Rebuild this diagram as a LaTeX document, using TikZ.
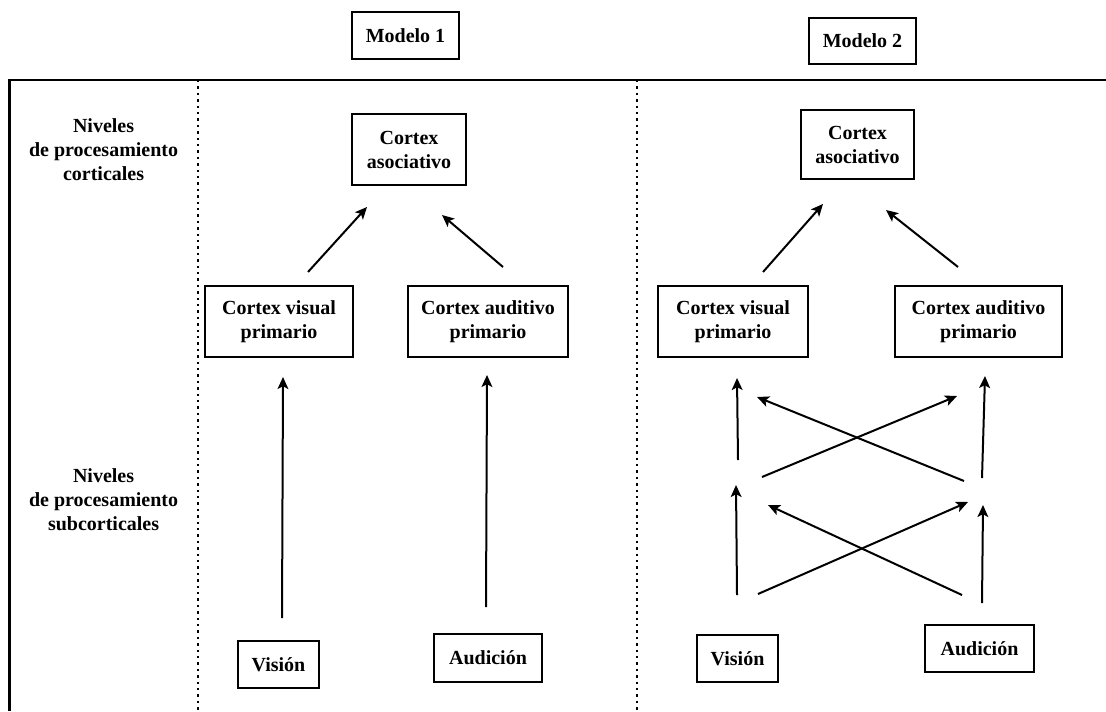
\documentclass[tikz,border=0pt]{standalone}
\usepackage{fontspec}
\setmainfont{Liberation Serif}
\usetikzlibrary{arrows.meta}
\begin{document}
\begin{tikzpicture}[x=0.5pt,y=-0.5pt,
  box/.style 2 args={draw,line width=1pt,inner sep=0pt,align=center,
    font=\bfseries,minimum width=#1*0.5pt,minimum height=#2*0.5pt},
  lbl/.style={align=center,font=\bfseries,inner sep=0pt},
  arr/.style={line width=1pt,-{Stealth[length=6pt,width=5.4pt,inset=1.4pt]}},
  frameline/.style={line width=1.2pt},
  divider/.style={line width=1.2pt,dash pattern=on 1.2pt off 2pt}]
\useasboundingbox (0,0) rectangle (1106,711);

% frame and column dividers
\coordinate (fbl) at (9.6,711);
\coordinate (ftl) at (9.6,80);
\coordinate (ftr) at (1106,80);
\draw[frameline] (fbl) -- (ftl) -- (ftr);
\coordinate (d1t) at (198,80);  \coordinate (d1b) at (198,711);
\coordinate (d2t) at (637,80);  \coordinate (d2b) at (637,711);
\draw[divider] (d1t) -- (d1b);
\draw[divider] (d2t) -- (d2b);

% row labels
\node[lbl] (lcort) at (103.6,150) {Niveles\\de procesamiento\\corticales};
\node[lbl] (lsub)  at (103.6,500) {Niveles\\de procesamiento\\subcorticales};

% model titles
\node[box={107}{47}] (mod1) at (405.5,35.5) {Modelo 1};
\node[box={107}{46}] (mod2) at (862.5,41) {Modelo 2};

% Model 1
\node[box={114}{71}] (m1asoc) at (409,149.5) {Cortex\\asociativo};
\node[box={148}{71}] (m1vis)  at (279,321.5) {Cortex visual\\primario};
\node[box={160}{71}] (m1aud)  at (488,321.5) {Cortex auditivo\\primario};
\node[box={81}{47}]  (m1vision) at (278.5,664.5) {Visión};
\node[box={108}{48}] (m1audicion) at (488,658) {Audición};

\coordinate (p1a) at (308,272); \coordinate (q1a) at (367,207);
\coordinate (p1b) at (503,267); \coordinate (q1b) at (442,215);
\coordinate (p1c) at (282,618); \coordinate (q1c) at (283,377);
\coordinate (p1d) at (486,607); \coordinate (q1d) at (487,375);
\draw[arr] (p1a) -- (q1a);
\draw[arr] (p1b) -- (q1b);
\draw[arr] (p1c) -- (q1c);
\draw[arr] (p1d) -- (q1d);

% Model 2
\node[box={113}{69}] (m2asoc) at (857.5,144.5) {Cortex\\asociativo};
\node[box={150}{71}] (m2vis)  at (733,321.5) {Cortex visual\\primario};
\node[box={167}{71}] (m2aud)  at (978.5,321.5) {Cortex auditivo\\primario};
\node[box={81}{47}]  (m2vision) at (737.5,658.5) {Visión};
\node[box={109}{47}] (m2audicion) at (979.5,648.5) {Audición};

\coordinate (p2a) at (763,272); \coordinate (q2a) at (823,204);
\coordinate (p2b) at (958,267); \coordinate (q2b) at (886,210);
\draw[arr] (p2a) -- (q2a);
\draw[arr] (p2b) -- (q2b);

% upper crossing stage
\coordinate (u1) at (738,460); \coordinate (u1t) at (737,378);
\coordinate (u2) at (982,478); \coordinate (u2t) at (985,376);
\coordinate (u3) at (762,477); \coordinate (u3t) at (957,396);
\coordinate (u4) at (964,481); \coordinate (u4t) at (757,397);
\draw[arr] (u1) -- (u1t);
\draw[arr] (u2) -- (u2t);
\draw[arr] (u3) -- (u3t);
\draw[arr] (u4) -- (u4t);

% lower crossing stage
\coordinate (l1) at (737,595); \coordinate (l1t) at (736,485);
\coordinate (l2) at (982,603); \coordinate (l2t) at (983,505);
\coordinate (l3) at (758,594); \coordinate (l3t) at (968,502);
\coordinate (l4) at (962,595); \coordinate (l4t) at (768,505);
\draw[arr] (l1) -- (l1t);
\draw[arr] (l2) -- (l2t);
\draw[arr] (l3) -- (l3t);
\draw[arr] (l4) -- (l4t);
\end{tikzpicture}
\end{document}
